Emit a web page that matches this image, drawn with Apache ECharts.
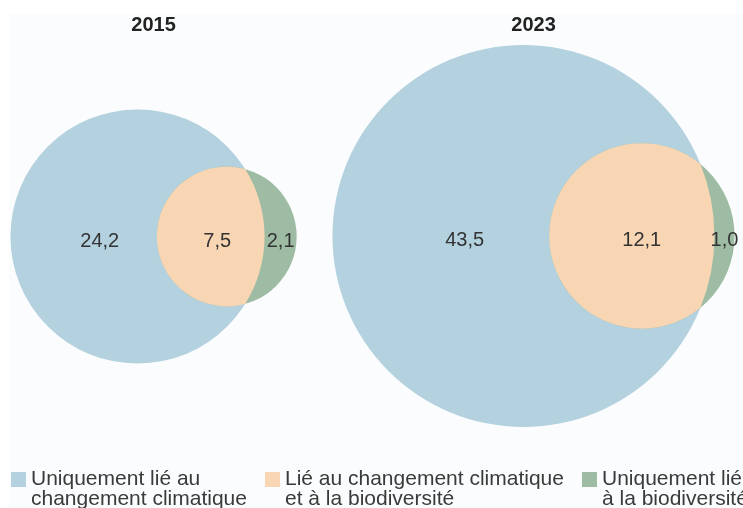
<!DOCTYPE html>
<html><head><meta charset="utf-8">
<script src="https://cdn.jsdelivr.net/npm/echarts@6/dist/echarts.min.js"></script>
<style>html,body{margin:0;padding:0;background:#fff}#c{width:743px;height:508px}</style>
</head><body><div id="c"></div>
<script>
// ---- data ----
const years = ['2015', '2023'];
const climateOnly = [24.2, 43.5];   // Uniquement lié au changement climatique
const both = [7.5, 12.1];           // Lié au changement climatique et à la biodiversité
const bioOnly = [2.1, 1.0];         // Uniquement lié à la biodiversité
const legendNames = [
  'Uniquement lié au\nchangement climatique',
  'Lié au changement climatique\net à la biodiversité',
  'Uniquement lié\nà la biodiversité'
];

// ---- style ----
const colors = ['#b3d1de', '#f8d6b3', '#9ebba3'];
const FONT = '"Liberation Sans", Arial, sans-serif';

// area-proportional Venn geometry
function lensArea(R, r, d) {
  if (d >= R + r) return 0;
  if (d <= Math.abs(R - r)) return Math.PI * Math.min(R, r) ** 2;
  const a1 = r * r * Math.acos((d * d + r * r - R * R) / (2 * d * r));
  const a2 = R * R * Math.acos((d * d + R * R - r * r) / (2 * d * R));
  const k = 0.5 * Math.sqrt((-d + r + R) * (d + r - R) * (d - r + R) * (d + r + R));
  return a1 + a2 - k;
}
function solveDistance(R, r, target) {
  let lo = Math.abs(R - r), hi = R + r;
  for (let n = 0; n < 100; n++) {
    const mid = (lo + hi) / 2;
    if (lensArea(R, r, mid) > target) lo = mid; else hi = mid;
  }
  return (lo + hi) / 2;
}
function geom(i) {
  const A = climateOnly[i] + both[i], B = bioOnly[i] + both[i];
  const R = Math.sqrt(A / Math.PI), r = Math.sqrt(B / Math.PI);
  return { R, r, d: solveDistance(R, r, both[i]) };
}
const fmt = v => v.toFixed(1).replace('.', ',');

function makeRender(part) {
  return function (params, api) {
    const i = api.value(0);
    const g = geom(i);
    const c1 = api.coord([0, 0]), c2 = api.coord([g.d, 0]);
    const k = api.size([1, 0])[0];
    const R = g.R * k, r = g.r * k;
    const cy = c1[1];
    const blueLeft = c1[0] - R, blueRight = c1[0] + R;
    const greenLeft = c2[0] - r, greenRight = c2[0] + r;
    const lab = (x, v) => ({ type: 'text', z2: 10, style: { x: x, y: cy + 5, text: fmt(v), align: 'center', verticalAlign: 'middle', fontSize: 20, fill: '#333', fontFamily: FONT } });
    if (part === 0) {
      return { type: 'group', children: [
        { type: 'circle', shape: { cx: c1[0], cy: cy, r: R }, style: { fill: colors[0] } },
        lab(blueLeft + 0.61 * (greenLeft - blueLeft), climateOnly[i]),
        { type: 'text', style: { x: (blueLeft + greenRight) / 2, y: 25, text: years[i], align: 'center', verticalAlign: 'middle', fontSize: 20, fontWeight: 'bold', fill: '#222', fontFamily: FONT } }
      ] };
    }
    if (part === 2) {
      return { type: 'group', children: [
        { type: 'circle', shape: { cx: c2[0], cy: cy, r: r }, style: { fill: colors[2] } },
        lab((blueRight + greenRight) / 2, bioOnly[i])
      ] };
    }
    // lens (intersection)
    const dp = c2[0] - c1[0];
    const a = (dp * dp + R * R - r * r) / (2 * dp);
    const h = Math.sqrt(Math.max(0, R * R - a * a));
    const x = c1[0] + a;
    const path = 'M' + x + ' ' + (cy - h) +
      ' A' + R + ' ' + R + ' 0 ' + (a < 0 ? 1 : 0) + ' 1 ' + x + ' ' + (cy + h) +
      ' A' + r + ' ' + r + ' 0 ' + ((dp - a) < 0 ? 1 : 0) + ' 1 ' + x + ' ' + (cy - h) + ' Z';
    return { type: 'group', children: [
      { type: 'path', shape: { pathData: path }, style: { fill: colors[1] } },
      lab(greenLeft + 0.56 * (blueRight - greenLeft), both[i])
    ] };
  };
}

const series = [];
years.forEach((y, gi) => {
  [0, 2, 1].forEach(part => {
    series.push({
      type: 'custom', name: legendNames[part], xAxisIndex: gi, yAxisIndex: gi,
      itemStyle: { color: colors[part] },
      renderItem: makeRender(part), data: [[gi, 0]], silent: true
    });
  });
});

const chart = echarts.init(document.getElementById('c'), null, { renderer: 'canvas' });
chart.setOption({
  animation: false,
  backgroundColor: '#ffffff',
  graphic: [{ type: 'rect', left: 9, top: 14, z: -1, silent: true, shape: { width: 800, height: 520 }, style: { fill: '#fafcfd' } }],
  grid: [
    { left: 1.5, top: 96.5, width: 280, height: 280 },
    { left: 323.7, top: 36.2, width: 408.6, height: 399.5 }
  ],
  xAxis: [
    { type: 'value', gridIndex: 0, min: -3.4, max: 3.6, show: false },
    { type: 'value', gridIndex: 1, min: -4.4, max: 4.6, show: false }
  ],
  yAxis: [
    { type: 'value', gridIndex: 0, min: -3.5, max: 3.5, show: false },
    { type: 'value', gridIndex: 1, min: -4.4, max: 4.4, show: false }
  ],
  legend: {
    left: 11, top: 449, width: 1500, padding: 0, orient: 'horizontal',
    itemWidth: 15, itemHeight: 15, itemGap: 18, icon: 'rect',
    selectedMode: false,
    formatter: name => ' \n' + name,
    textStyle: { fontSize: 21, lineHeight: 20, color: '#3a3a3a', fontFamily: FONT },
    data: legendNames
  },
  series: series
});
</script>
</body></html>
